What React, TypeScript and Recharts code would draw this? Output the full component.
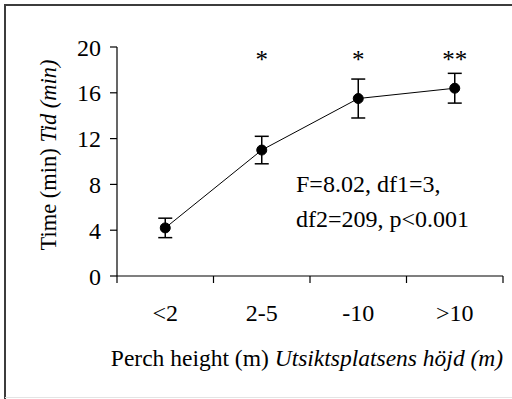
import React from 'react'
import { LineChart, Line, XAxis, YAxis, ErrorBar, LabelList, Label } from 'recharts'

const categories = ['<2', '2-5', '-10', '>10']
const times = [4.2, 11.0, 15.5, 16.4]
const errors = [0.85, 1.2, 1.7, 1.3]
const significance = ['', '*', '*', '**']
const yTicks = [0, 4, 8, 12, 16, 20]
const stats = ['F=8.02, df1=3,', 'df2=209, p<0.001']

// x is placed in the middle of each category band (0..4)
const data = categories.map((c, i) => ({
  x: i + 0.5,
  cat: c,
  time: times[i],
  err: errors[i],
  sig: significance[i],
}))

const xTicks: number[] = []
for (let i = 0; i <= categories.length; i++) {
  xTicks.push(i)
  if (i < categories.length) xTicks.push(i + 0.5)
}

const FONT = '"Liberation Serif", "Times New Roman", serif'
const PLOT_TOP = 47

const XTick = (props: any) => {
  const { x, y, payload } = props
  const v = payload.value
  if (Number.isInteger(v)) {
    return <line x1={x} y1={y} x2={x} y2={y + 7} stroke="#000" strokeWidth={1.2} />
  }
  return (
    <text x={x} y={y + 45} textAnchor="middle" fontSize={24} fontFamily={FONT} fill="#000">
      {categories[Math.floor(v)]}
    </text>
  )
}

const SigLabel = (props: any) => {
  const { x, value } = props
  if (!value) return null
  return (
    <text x={x} y={PLOT_TOP + 21} textAnchor="middle" fontSize={25} fontFamily={FONT} fill="#000">
      {value}
    </text>
  )
}

const App = () => {
  return (
    <div style={{ position: 'absolute', left: 0, top: 0, width: 512, height: 399, overflow: 'hidden', background: '#fff', fontFamily: FONT }}>
      <LineChart width={512} height={399} data={data} margin={{ top: PLOT_TOP, right: 9, bottom: 63, left: 57 }}>
        <XAxis
          dataKey="x"
          type="number"
          domain={[0, 4]}
          ticks={xTicks}
          interval={0}
          tickLine={false}
          tickSize={0}
          tickMargin={0}
          tick={<XTick />}
          height={60}
          axisLine={{ stroke: '#000', strokeWidth: 1.2 }}
        >
          <Label
            content={(p: any) => {
              const vb = p.viewBox
              return (
                <text x={vb.x + vb.width / 2 - 3} y={366} textAnchor="middle" fontSize={23.5} fontFamily={FONT} fill="#000">
                  <tspan>Perch height (m) </tspan>
                  <tspan fontStyle="italic">Utsiktsplatsens höjd (m)</tspan>
                </text>
              )
            }}
          />
        </XAxis>
        <YAxis
          domain={[0, 20]}
          ticks={yTicks}
          interval={0}
          width={60}
          tickSize={7}
          tickMargin={9}
          tick={{ fontSize: 24, fontFamily: FONT, fill: '#000' }}
          tickLine={{ stroke: '#000', strokeWidth: 1.2 }}
          axisLine={{ stroke: '#000', strokeWidth: 1.2 }}
        >
          <Label
            content={() => (
              <g>
                {/* outer frame of the figure */}
                <path d="M5 399 V5 H512" fill="none" stroke="#3c3c3c" strokeWidth={2} />
                <line x1={5} y1={397.5} x2={512} y2={397.5} stroke="#e4e4e4" strokeWidth={1} />
                <text x={0} y={0} transform="translate(56,155) rotate(-90)" textAnchor="middle" fontSize={22.5} fontFamily={FONT} fill="#000">
                  <tspan>Time (min) </tspan>
                  <tspan fontStyle="italic">Tid (min)</tspan>
                </text>
              </g>
            )}
          />
        </YAxis>
        <Line
          dataKey="time"
          stroke="#000"
          strokeWidth={1}
          dot={{ r: 5, fill: '#000', stroke: '#000', strokeWidth: 1 }}
          activeDot={false}
          isAnimationActive={false}
        >
          <ErrorBar dataKey="err" width={7} stroke="#000" strokeWidth={1.5} direction="y" />
          <LabelList dataKey="sig" content={<SigLabel />} />
        </Line>
      </LineChart>

      {/* statistics */}
      <div style={{ position: 'absolute', left: 296, top: 167, fontSize: 24, lineHeight: '35px', color: '#000', whiteSpace: 'nowrap' }}>
        {stats.map((s, i) => (
          <div key={i}>{s}</div>
        ))}
      </div>
    </div>
  )
}

export default App
